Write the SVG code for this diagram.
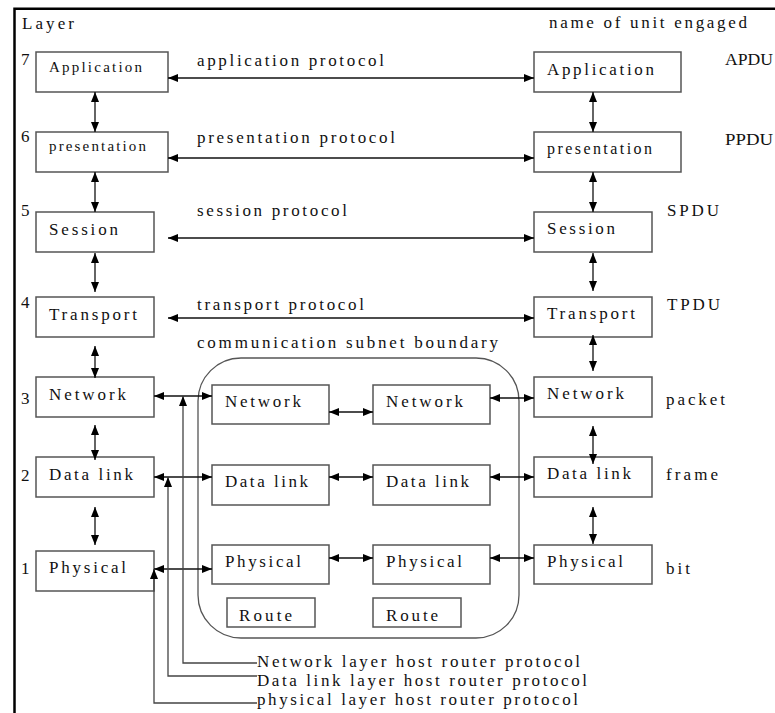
<svg xmlns="http://www.w3.org/2000/svg" width="775" height="713" viewBox="0 0 775 713">
  <defs>
    <marker id="ah" viewBox="0 0 10 8" refX="10" refY="4" markerWidth="10" markerHeight="8" markerUnits="userSpaceOnUse" orient="auto-start-reverse">
      <path d="M0,0 L10,4 L0,8 z" fill="#000"/>
    </marker>
    <style>
      text { font-family: "Liberation Serif", "Times New Roman", serif; fill: #111; }
      .box { fill: #fff; stroke: #555; stroke-width: 1.5; }
      .lbl { font-size: 16px; }
      .big { font-size: 17px; }
      .arr { fill: none; stroke: #111; stroke-width: 1.3; marker-start: url(#ah); marker-end: url(#ah); }
      .hr { fill: none; stroke: #444; stroke-width: 1.3; marker-start: url(#ah); }
    </style>
  </defs>

  <rect width="775" height="713" fill="#fff"/>

  <!-- outer frame -->
  <path d="M14.5,713 V8.7 H775" fill="none" stroke="#000" stroke-width="2.5"/>

  <!-- headings and layer numbers -->
  <text x="22" y="29" class="big" textLength="52" lengthAdjust="spacing">Layer</text>
  <text x="549" y="28" class="big" textLength="198" lengthAdjust="spacing">name of unit engaged</text>
  <text x="21" y="65" class="big">7</text>
  <text x="21" y="142" class="big">6</text>
  <text x="21" y="216" class="big">5</text>
  <text x="21" y="308" class="big">4</text>
  <text x="21" y="404" class="big">3</text>
  <text x="21" y="481" class="big">2</text>
  <text x="21" y="574" class="big">1</text>

  <!-- unit names -->
  <text x="725" y="65" class="big" textLength="48" lengthAdjust="spacingAndGlyphs">APDU</text>
  <text x="725" y="145" class="big" textLength="48" lengthAdjust="spacingAndGlyphs">PPDU</text>
  <text x="667" y="216" class="big" textLength="52" lengthAdjust="spacing">SPDU</text>
  <text x="667" y="310" class="big" textLength="53" lengthAdjust="spacing">TPDU</text>
  <text x="666" y="405" class="big" textLength="59" lengthAdjust="spacing">packet</text>
  <text x="666" y="480" class="big" textLength="52" lengthAdjust="spacing">frame</text>
  <text x="666" y="574" class="big" textLength="24" lengthAdjust="spacing">bit</text>

  <!-- protocol labels -->
  <text x="197" y="66" class="big" textLength="187" lengthAdjust="spacing">application protocol</text>
  <text x="197" y="143" class="big" textLength="198" lengthAdjust="spacing">presentation protocol</text>
  <text x="197" y="216" class="big" textLength="150" lengthAdjust="spacing">session protocol</text>
  <text x="197" y="310" class="big" textLength="167" lengthAdjust="spacing">transport protocol</text>
  <text x="197" y="348" class="big" textLength="301" lengthAdjust="spacing">communication subnet boundary</text>

  <!-- communication subnet boundary -->
  <rect id="subnet" x="198" y="358" width="321" height="280" rx="43" ry="43" fill="none" stroke="#555" stroke-width="1.3"/>

  <!-- host A stack -->
  <g id="hostA-application"><rect class="box" x="36" y="52" width="132" height="40"/><text x="49" y="72" class="lbl" textLength="93" lengthAdjust="spacing" style="font-size:15px">Application</text></g>
  <g id="hostA-presentation"><rect class="box" x="36" y="132" width="132" height="40"/><text x="49" y="151" class="lbl" textLength="97" lengthAdjust="spacing" style="font-size:15px">presentation</text></g>
  <g id="hostA-session"><rect class="box" x="36" y="212" width="118" height="40"/><text x="49" y="235" class="big" textLength="69" lengthAdjust="spacing">Session</text></g>
  <g id="hostA-transport"><rect class="box" x="36" y="297" width="118" height="40"/><text x="49" y="320" class="big" textLength="88" lengthAdjust="spacing">Transport</text></g>
  <g id="hostA-network"><rect class="box" x="36" y="377" width="118" height="40"/><text x="49" y="400" class="big" textLength="77" lengthAdjust="spacing">Network</text></g>
  <g id="hostA-datalink"><rect class="box" x="36" y="457" width="118" height="40"/><text x="49" y="480" class="big" textLength="84" lengthAdjust="spacing">Data link</text></g>
  <g id="hostA-physical"><rect class="box" x="36" y="551" width="118" height="40"/><text x="49" y="573" class="big" textLength="77" lengthAdjust="spacing">Physical</text></g>

  <!-- routers inside subnet -->
  <g id="r1-network"><rect class="box" x="212" y="385" width="117" height="39"/><text x="225" y="407" class="big" textLength="76" lengthAdjust="spacing">Network</text></g>
  <g id="r1-datalink"><rect class="box" x="212" y="465" width="117" height="40"/><text x="225" y="487" class="big" textLength="83" lengthAdjust="spacing">Data link</text></g>
  <g id="r1-physical"><rect class="box" x="212" y="545" width="117" height="39"/><text x="225" y="567" class="big" textLength="76" lengthAdjust="spacing">Physical</text></g>
  <g id="r1-route"><rect class="box" x="227" y="598" width="88" height="29"/><text x="239" y="621" class="big" textLength="53" lengthAdjust="spacing">Route</text></g>
  <g id="r2-network"><rect class="box" x="373" y="385" width="117" height="39"/><text x="386" y="407" class="big" textLength="77" lengthAdjust="spacing">Network</text></g>
  <g id="r2-datalink"><rect class="box" x="373" y="465" width="117" height="40"/><text x="386" y="487" class="big" textLength="83" lengthAdjust="spacing">Data link</text></g>
  <g id="r2-physical"><rect class="box" x="373" y="545" width="117" height="39"/><text x="386" y="567" class="big" textLength="76" lengthAdjust="spacing">Physical</text></g>
  <g id="r2-route"><rect class="box" x="373" y="598" width="88" height="29"/><text x="386" y="621" class="big" textLength="52" lengthAdjust="spacing">Route</text></g>

  <!-- host B stack -->
  <g id="hostB-application"><rect class="box" x="534" y="52" width="147" height="40"/><text x="547" y="75" class="big" textLength="107" lengthAdjust="spacing">Application</text></g>
  <g id="hostB-presentation"><rect class="box" x="534" y="132" width="147" height="40"/><text x="547" y="154" class="lbl" textLength="105" lengthAdjust="spacing">presentation</text></g>
  <g id="hostB-session"><rect class="box" x="534" y="212" width="118" height="40"/><text x="547" y="234" class="big" textLength="68" lengthAdjust="spacing">Session</text></g>
  <g id="hostB-transport"><rect class="box" x="534" y="297" width="118" height="40"/><text x="547" y="319" class="big" textLength="88" lengthAdjust="spacing">Transport</text></g>
  <g id="hostB-network"><rect class="box" x="534" y="377" width="118" height="40"/><text x="547" y="399" class="big" textLength="77" lengthAdjust="spacing">Network</text></g>
  <g id="hostB-datalink"><rect class="box" x="534" y="457" width="118" height="40"/><text x="547" y="479" class="big" textLength="84" lengthAdjust="spacing">Data link</text></g>
  <g id="hostB-physical"><rect class="box" x="534" y="545" width="118" height="39"/><text x="547" y="567" class="big" textLength="76" lengthAdjust="spacing">Physical</text></g>

  <!-- connectors -->
  <g id="connectors">
    <!-- peer protocols -->
    <line class="arr" x1="168" y1="78" x2="534" y2="78"/>
    <line class="arr" x1="168" y1="158" x2="534" y2="158"/>
    <line class="arr" x1="168" y1="238" x2="534" y2="238"/>
    <line class="arr" x1="168" y1="318" x2="534" y2="318"/>

    <!-- host A vertical -->
    <line class="arr" x1="95" y1="92" x2="95" y2="132"/>
    <line class="arr" x1="95" y1="172" x2="95" y2="212"/>
    <line class="arr" x1="95" y1="253" x2="95" y2="292"/>
    <line class="arr" x1="95" y1="346" x2="95" y2="378"/>
    <line class="arr" x1="95" y1="425" x2="95" y2="460"/>
    <line class="arr" x1="95" y1="507" x2="95" y2="545"/>

    <!-- host B vertical -->
    <line class="arr" x1="593" y1="92" x2="593" y2="132"/>
    <line class="arr" x1="593" y1="172" x2="593" y2="212"/>
    <line class="arr" x1="593" y1="253" x2="593" y2="291"/>
    <line class="arr" x1="593" y1="335" x2="593" y2="371"/>
    <line class="arr" x1="593" y1="426" x2="593" y2="464"/>
    <line class="arr" x1="593" y1="507" x2="593" y2="544"/>

    <!-- subnet links -->
    <line class="arr" x1="154" y1="396" x2="212" y2="396"/>
    <line class="arr" x1="329" y1="412" x2="373" y2="412"/>
    <line class="arr" x1="490" y1="398" x2="534" y2="398"/>
    <line class="arr" x1="154" y1="477" x2="212" y2="477"/>
    <line class="arr" x1="329" y1="477" x2="373" y2="477"/>
    <line class="arr" x1="490" y1="477" x2="534" y2="477"/>
    <line class="arr" x1="154" y1="569" x2="212" y2="569"/>
    <line class="arr" x1="329" y1="558" x2="373" y2="558"/>
    <line class="arr" x1="490" y1="558" x2="534" y2="558"/>

    <!-- host-router protocol leaders -->
    <path class="hr" d="M183,396 V663 H257"/>
    <path class="hr" d="M168,477 V676 H257"/>
    <path class="hr" d="M154,569 V703 H257"/>
  </g>

  <text x="257" y="667" class="big" textLength="323" lengthAdjust="spacing">Network layer host router protocol</text>
  <text x="257" y="686" class="big" textLength="330" lengthAdjust="spacing">Data link layer host router protocol</text>
  <text x="257" y="705" class="big" textLength="321" lengthAdjust="spacing">physical layer host router protocol</text>
</svg>
